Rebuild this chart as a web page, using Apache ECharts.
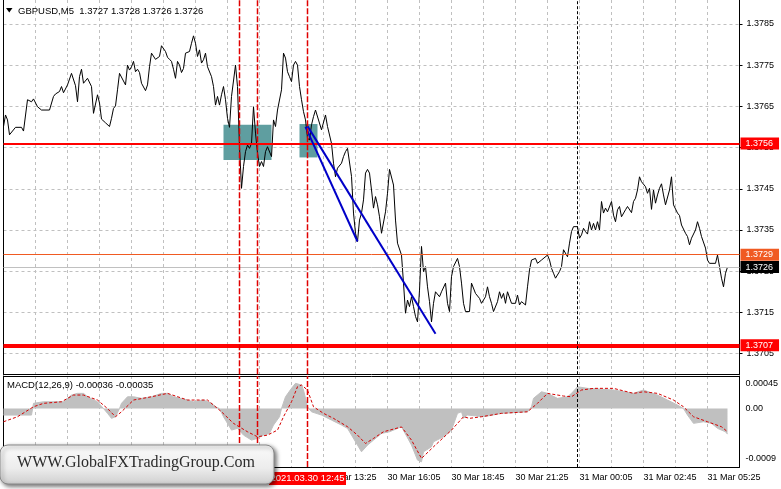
<!DOCTYPE html>
<html>
<head>
<meta charset="utf-8">
<script src="https://cdn.jsdelivr.net/npm/echarts@6/dist/echarts.min.js"></script>
<style>html,body{margin:0;padding:0;background:#fff}#chart{width:781px;height:489px}</style>
</head>
<body>
<div id="chart"></div>
<script>
// ---- data (bar index: 1 = 30 Mar 00:05, one bar per 5 minutes) ----
const priceBars = [1,2,3,4,5,7,10,11,13,14,
 15,16,18,19,20,24,26,27,29,30,
 31,33,35,36,37,38,39,40,41,43,
 44,45,46,48,49,50,52,53,54,55,
 56,57,58,59,60,62,63,64,65,66,
 67,68,69,70,72,73,74,75,77,78,
 79,80,82,83,84,85,86,87,88,89,
 90,91,92,94,95,96,97,98,99,100,
 101,102,103,105,106,107,108,109,110,111,
 112,113,114,115,117,118,119,120,121,122,
 123,124,125,126,127,128,129,130,131,132,
 133,134,135,136,137,138,140,141,142,143,
 144,145,146,147,148,149,150,151,152,153,
 154,155,156,157,158,160,161,162,163,165,
 166,167,168,170,171,172,173,175,176,177,
 178,179,180,181,182,183,184,185,186,187,
 188,189,190,192,193,194,195,196,197,198,
 200,201,202,203,204,205,206,207,208,209,
 210,211,212,213,214,215,216,217,218,219,
 220,221,222,223,224,225,226,228,229,230,
 231,232,234,235,237,238,239,240,242,243,
 244,245,246,248,249,250,251,252,253,255,
 257,258,259,260,262,263,264,265,267,268,
 269,270,271,273,274,275,276,277,279,280,
 281,282,283,284,285,286,287,288,289,290,
 291,292,293,294,295,296,297,298,299,300,
 301,302,303,305,306,307,308,309,310,312,
 313,314,315,316,317,318,319,320,322,323,
 324,325,326,327,328,329,330,331,332,333,
 334,335,336,337,338,339,340,341,342,343,
 344,345,347,348,349,350,352,353,354,355,
 357,358,359,360,361,362,363];
const priceValues = [1.37601,1.37629,1.37617,1.37581,1.37581,1.37599,1.37599,1.37590,1.37666,1.37670,
 1.37661,1.37668,1.37649,1.37651,1.37641,1.37641,1.37674,1.37680,1.37686,1.37698,
 1.37683,1.37702,1.37730,1.37730,1.37700,1.37661,1.37722,1.37740,1.37706,1.37718,
 1.37714,1.37698,1.37633,1.37678,1.37658,1.37619,1.37610,1.37609,1.37601,1.37621,
 1.37645,1.37651,1.37690,1.37730,1.37726,1.37702,1.37750,1.37738,1.37746,1.37759,
 1.37734,1.37740,1.37732,1.37706,1.37688,1.37702,1.37746,1.37779,1.37764,1.37761,
 1.37771,1.37797,1.37783,1.37769,1.37764,1.37759,1.37740,1.37718,1.37759,1.37750,
 1.37732,1.37742,1.37779,1.37783,1.37803,1.37821,1.37803,1.37771,1.37787,1.37755,
 1.37763,1.37779,1.37746,1.37722,1.37698,1.37653,1.37674,1.37653,1.37678,1.37698,
 1.37666,1.37621,1.37599,1.37674,1.37750,1.37698,1.37552,1.37451,1.37504,1.37540,
 1.37556,1.37548,1.37560,1.37649,1.37585,1.37536,1.37504,1.37516,1.37504,1.37540,
 1.37552,1.37552,1.37528,1.37617,1.37601,1.37641,1.37690,1.37779,1.37767,1.37734,
 1.37722,1.37710,1.37750,1.37759,1.37750,1.37698,1.37666,1.37637,1.37617,1.37573,
 1.37568,1.37605,1.37625,1.37641,1.37637,1.37593,1.37589,1.37629,1.37601,1.37560,
 1.37512,1.37479,1.37500,1.37512,1.37528,1.37540,1.37548,1.37480,1.37391,1.37342,
 1.37322,1.37374,1.37391,1.37423,1.37488,1.37497,1.37488,1.37447,1.37403,1.37431,
 1.37411,1.37382,1.37342,1.37394,1.37439,1.37497,1.37497,1.37459,1.37374,1.37318,
 1.37289,1.37221,1.37148,1.37180,1.37164,1.37188,1.37164,1.37140,1.37127,1.37204,
 1.37310,1.37249,1.37261,1.37212,1.37176,1.37127,1.37172,1.37200,1.37200,1.37188,
 1.37200,1.37200,1.37221,1.37172,1.37152,1.37237,1.37261,1.37281,1.37261,1.37221,
 1.37172,1.37152,1.37152,1.37221,1.37196,1.37192,1.37184,1.37172,1.37188,1.37212,
 1.37188,1.37172,1.37152,1.37176,1.37200,1.37184,1.37196,1.37172,1.37200,1.37172,
 1.37172,1.37192,1.37168,1.37176,1.37168,1.37212,1.37253,1.37277,1.37281,1.37269,
 1.37269,1.37277,1.37281,1.37289,1.37277,1.37257,1.37245,1.37233,1.37249,1.37261,
 1.37302,1.37300,1.37285,1.37318,1.37346,1.37358,1.37354,1.37358,1.37330,1.37338,
 1.37354,1.37346,1.37340,1.37370,1.37350,1.37366,1.37350,1.37370,1.37350,1.37419,
 1.37391,1.37403,1.37394,1.37419,1.37386,1.37370,1.37399,1.37407,1.37382,1.37399,
 1.37407,1.37411,1.37392,1.37419,1.37427,1.37447,1.37479,1.37467,1.37455,1.37439,
 1.37451,1.37400,1.37447,1.37415,1.37435,1.37451,1.37462,1.37435,1.37411,1.37411,
 1.37447,1.37479,1.37411,1.37407,1.37391,1.37385,1.37362,1.37366,1.37342,1.37334,
 1.37314,1.37330,1.37350,1.37370,1.37354,1.37334,1.37306,1.37277,1.37269,1.37269,
 1.37269,1.37289,1.37261,1.37233,1.37212,1.37245,1.37260];

const macdBars = [1,15,16,21,31,33,35,38,41,43,
 48,51,53,55,57,59,60,63,66,70,
 75,80,83,86,93,96,101,105,107,109,
 111,115,118,121,125,128,131,134,136,139,
 140,142,145,147,150,151,153,155,160,165,
 170,173,175,178,180,183,186,190,194,200,
 205,208,210,211,215,216,221,225,228,230,
 231,233,241,250,263,265,266,270,273,278,
 283,285,288,293,306,316,321,328,333,338,
 341,343,346,351,355,358,362,363];
const macdValues = [-0.000117,-0.000117,0.000094,0.000122,0.000122,0.000183,0.000243,0.000273,0.000273,0.000212,
 0.000122,0,-0.000086,-0.000176,-0.000147,0,0.000094,0.000212,0.000212,0.000183,
 0.000212,0.000273,0.000273,0.000212,0.000153,0.000122,0.000153,0.000094,0.000032,0,
 -0.000147,-0.000387,-0.000356,-0.000477,-0.000567,-0.000536,-0.000477,-0.000446,-0.000297,-0.000147,
 0,0.000212,0.000363,0.000453,0.000423,0.000333,0.000032,-0.000058,-0.000117,-0.000207,
 -0.000297,-0.000356,-0.000477,-0.000657,-0.000777,-0.000657,-0.000567,-0.000446,-0.000417,-0.000327,
 -0.000657,-0.000926,-0.000957,-0.000777,-0.000687,-0.000597,-0.000507,-0.000387,-0.000086,-0.000058,
 -0.000176,-0.000117,-0.000147,-0.000086,-0.000058,0.000032,0.000183,0.000302,0.000273,0.000183,
 0.000212,0.000273,0.000392,0.000363,0.000333,0.000273,0.000333,0.000243,0.000153,0.000063,
 0,-0.000117,-0.000266,-0.000237,-0.000266,-0.000356,-0.000417,-0.000460];

const signalBars = [1,8,16,21,30,36,41,48,53,57,
 60,66,75,83,93,103,110,116,123,128,
 133,138,141,145,148,150,153,156,161,166,
 173,178,182,186,191,200,205,210,216,225,
 231,234,240,250,263,268,273,281,285,290,
 296,306,316,321,328,336,341,346,353,360,
 363];
const signalValues = [-0.000237,-0.000147,0.000032,0.000094,0.000122,0.000243,0.000243,0.000153,0,-0.000147,
 -0.000058,0.000153,0.000212,0.000273,0.000153,0.000153,-0.000058,-0.000266,-0.000417,-0.000507,
 -0.000477,-0.000387,-0.000147,0.000122,0.000392,0.000423,0.000333,0.000032,-0.000086,-0.000176,
 -0.000326,-0.000477,-0.000627,-0.000537,-0.000417,-0.00033,-0.000567,-0.000896,-0.000687,-0.000387,
 -0.000147,-0.000176,-0.000147,-0.000086,-0.000058,0.000094,0.000273,0.000225,0.000212,0.000333,
 0.000363,0.000363,0.000273,0.000302,0.000273,0.000153,0.000032,-0.000147,-0.000237,-0.000327,
 -0.000417];

const timeLabels = ['30 Mar 00:05','30 Mar 02:45','30 Mar 05:25','30 Mar 08:05','30 Mar 10:45','30 Mar 13:25',
 '30 Mar 16:05','30 Mar 18:45','30 Mar 21:25','31 Mar 00:05','31 Mar 02:45','31 Mar 05:25'];
const levelPrices = [1.3756, 1.3729, 1.3726, 1.3707];
const markerBars = [119, 128, 153];
const daySeparatorBar = 288;
const zoneFrom = [111, 149], zoneTo = [135, 158];
const zoneTop = [1.37605, 1.37607], zoneBottom = [1.37520, 1.37526];
const trendFromBar = [152, 153], trendFromPrice = [1.37600, 1.37602];
const trendToBar = [178, 217], trendToPrice = [1.37322, 1.37098];
const titleText = 'GBPUSD,M5  1.3727 1.3728 1.3726 1.3726';
const macdTitle = 'MACD(12,26,9) -0.00036 -0.00035';
const crossLabel = '2021.03.30 12:45';
const watermark = 'WWW.GlobalFXTradingGroup.Com';

// ---- styles ----
const F = '"Liberation Sans", Arial, sans-serif';
const levelStyles = [
  {color:'#ff0000', width:2, bg:'#ff0000'},
  {color:'#f05a22', width:1, bg:'#f05a22'},
  {color:'#c0c0c0', width:1, bg:'#000000'},
  {color:'#ff0000', width:4, bg:'#ff0000'}
];
const gridLine = {color:'#c0c0c0', width:1, type:[3,3]};
const zip = (xs, ys) => xs.map((x, i) => [x, ys[i]]);
const L = 3.5, W = 736, X0 = 1, X1 = 369;
const P_MIN = 1.3700, P_MAX = 1.37908, M_MIN = -0.00105, M_MAX = 0.000585;

// vertical marker lines as small two-point series
const verticalSeries = (xi, yi, lo, hi) => markerBars.map(b => ({
    type:'line', xAxisIndex:xi, yAxisIndex:yi, data:[[b, lo], [b, hi]], symbol:'none', silent:true, z:5,
    lineStyle:{color:'#e00000', width:1.5, type:[6,2]}}))
  .concat([{type:'line', xAxisIndex:xi, yAxisIndex:yi, data:[[daySeparatorBar, lo], [daySeparatorBar, hi]],
    symbol:'none', silent:true, z:5, lineStyle:{color:'#000000', width:1, type:[3,2]}}]);

const hiddenX = (g) => ({gridIndex:g, type:'value', min:X0, max:X1, show:false});
const chart = echarts.init(document.getElementById('chart'), null, {renderer:'canvas'});

const option = {
  animation:false,
  backgroundColor:'#ffffff',
  textStyle:{fontFamily:F},
  grid:[
    {left:L, width:W, top:0, height:374.2},
    {left:L, width:W, top:24, height:329.6},
    {left:L, width:W, top:376, height:91},
    {left:L, width:W, top:383.5, height:75.1}
  ],
  xAxis:[
    {gridIndex:0, type:'value', min:X0, max:X1, interval:16,
     axisLine:{show:true, onZero:false, lineStyle:{color:'#000', width:1}}, axisTick:{show:false}, axisLabel:{show:false},
     splitLine:{show:true, showMinLine:false, showMaxLine:false, lineStyle:gridLine}},
    hiddenX(1),
    {gridIndex:2, type:'value', min:X0, max:X1, interval:16,
     axisLine:{show:true, onZero:false, lineStyle:{color:'#000', width:1}}, axisTick:{show:false},
     axisLabel:{show:true, fontSize:9, color:'#000', margin:6, align:'left', fontFamily:F,
       formatter:(v) => { const k = (v - 1) / 32; return (Number.isInteger(k) && k < timeLabels.length) ? timeLabels[k] : ''; }},
     splitLine:{show:true, showMinLine:false, showMaxLine:false, lineStyle:gridLine}},
    hiddenX(3),
    {gridIndex:2, type:'value', position:'top', min:X0, max:X1,
     axisLine:{show:true, onZero:false, lineStyle:{color:'#000', width:1}}, axisTick:{show:false}, axisLabel:{show:false}, splitLine:{show:false}}
  ],
  yAxis:[
    {gridIndex:0, type:'value', position:'right', min:P_MIN, max:P_MAX,
     axisLine:{show:true, lineStyle:{color:'#000', width:1}}, axisTick:{show:false}, axisLabel:{show:false}, splitLine:{show:false}},
    {gridIndex:1, type:'value', position:'right', min:1.3705, max:1.3785, interval:0.001,
     axisLine:{show:false}, axisTick:{show:true, length:3, lineStyle:{color:'#000'}},
     axisLabel:{show:true, fontSize:9, color:'#000', margin:7, fontFamily:F, formatter:(v) => v.toFixed(4)},
     splitLine:{show:true, lineStyle:gridLine}},
    {gridIndex:2, type:'value', position:'right', min:M_MIN, max:M_MAX,
     axisLine:{show:true, lineStyle:{color:'#000', width:1}}, axisTick:{show:false}, axisLabel:{show:false}, splitLine:{show:false}},
    {gridIndex:3, type:'value', position:'right', min:-0.0009, max:0.00045, interval:0.00045,
     axisLine:{show:false}, axisTick:{show:false},
     axisLabel:{show:true, fontSize:9, color:'#000', margin:7, fontFamily:F,
       formatter:(v) => Math.abs(v - 0.00045) < 1e-9 ? '0.00045' : (Math.abs(v) < 1e-9 ? '0.00' : (Math.abs(v + 0.0009) < 1e-9 ? '-0.0009' : ''))},
     splitLine:{show:false}},
    {gridIndex:0, type:'value', position:'left', min:P_MIN, max:P_MAX,
     axisLine:{show:true, lineStyle:{color:'#000', width:1}}, axisTick:{show:false}, axisLabel:{show:false}, splitLine:{show:false}},
    {gridIndex:2, type:'value', position:'left', min:M_MIN, max:M_MAX,
     axisLine:{show:true, lineStyle:{color:'#000', width:1}}, axisTick:{show:false}, axisLabel:{show:false}, splitLine:{show:false}}
  ],
  series:[
    {name:'zones', type:'line', xAxisIndex:0, yAxisIndex:0, data:[], z:1, silent:true,
     markArea:{silent:true, itemStyle:{color:'#5f9ea0', opacity:1},
       data: zoneFrom.map((f, i) => [{coord:[f, zoneTop[i]]}, {coord:[zoneTo[i], zoneBottom[i]]}])}},
    {name:'GBPUSD', type:'line', xAxisIndex:0, yAxisIndex:0, data:zip(priceBars, priceValues),
     symbol:'none', lineStyle:{color:'#000', width:1}, z:3, silent:true},
    {name:'objects', type:'line', xAxisIndex:0, yAxisIndex:0, data:[], z:6, silent:true,
     markLine:{silent:true, symbol:['none','none'], animation:false, label:{show:false},
       data: levelPrices.map((p, i) => [
           {coord:[X0, p], lineStyle:{color:levelStyles[i].color, width:levelStyles[i].width, type:'solid'},
            label:{show:true, position:'end', distance:1, formatter:p.toFixed(4), color:'#fff',
                   backgroundColor:levelStyles[i].bg, padding:[2,6,1,5], fontSize:9, fontFamily:F}},
           {coord:[X1, p]}])
         .concat(trendFromBar.map((b, i) => [
           {coord:[b, trendFromPrice[i]], lineStyle:{color:'#0000c8', width:2, type:'solid'}},
           {coord:[trendToBar[i], trendToPrice[i]]}]))}},
    {name:'MACD', type:'line', xAxisIndex:2, yAxisIndex:2, data:zip(macdBars, macdValues),
     symbol:'none', lineStyle:{color:'#c0c0c0', width:1}, areaStyle:{color:'#c0c0c0', opacity:1}, z:2, silent:true},
    {name:'Signal', type:'line', xAxisIndex:2, yAxisIndex:2, data:zip(signalBars, signalValues),
     symbol:'none', lineStyle:{color:'#d40000', width:1, type:[3,2]}, z:3, silent:true}
  ].concat(verticalSeries(0, 0, P_MIN, P_MAX)).concat(verticalSeries(2, 2, M_MIN, M_MAX))
};
chart.setOption(option);

const cx = chart.convertToPixel({xAxisIndex:2}, markerBars[2]);
chart.setOption({
  graphic:[
    {type:'polygon', id:'tri', shape:{points:[[6,8],[12.5,8],[9.25,12.5]]}, style:{fill:'#000'}, z:50},
    {type:'text', id:'title', x:18, y:11, z:50,
     style:{text:titleText, font:'9.5px "Liberation Sans"', fill:'#000', verticalAlign:'middle', textVerticalAlign:'middle'}},
    {type:'text', id:'macdTitle', x:7, y:385, z:50,
     style:{text:macdTitle, font:'9.5px "Liberation Sans"', fill:'#000', verticalAlign:'middle', textVerticalAlign:'middle'}},
    {type:'rect', id:'crossBox', shape:{x:cx - 38.5, y:472, width:77, height:13}, style:{fill:'#ff0000'}, z:60},
    {type:'text', id:'crossText', x:cx, y:478.5, z:61,
     style:{text:crossLabel, font:'9.5px "Liberation Sans"', fill:'#fff', align:'center', textAlign:'center', verticalAlign:'middle', textVerticalAlign:'middle'}},
    {type:'rect', id:'wmBox', shape:{x:0, y:445, width:274, height:39, r:8}, z:100,
     style:{fill:new echarts.graphic.LinearGradient(0,0,0,1,[{offset:0,color:'#fbfbfb'},{offset:0.6,color:'#ececec'},{offset:1,color:'#cfcfcf'}]),
            stroke:'#8a8a8a', lineWidth:1, shadowBlur:4, shadowOffsetX:2, shadowOffsetY:2, shadowColor:'rgba(0,0,0,0.55)'}},
    {type:'text', id:'wmText', x:136, y:463, z:101,
     style:{text:watermark, font:'16px "Liberation Serif"', fill:'#2b2b2b', align:'center', textAlign:'center', verticalAlign:'middle', textVerticalAlign:'middle',
            shadowColor:'rgba(0,0,0,0.45)', shadowBlur:2, shadowOffsetX:1, shadowOffsetY:1}}
  ]
});
</script>
</body>
</html>
